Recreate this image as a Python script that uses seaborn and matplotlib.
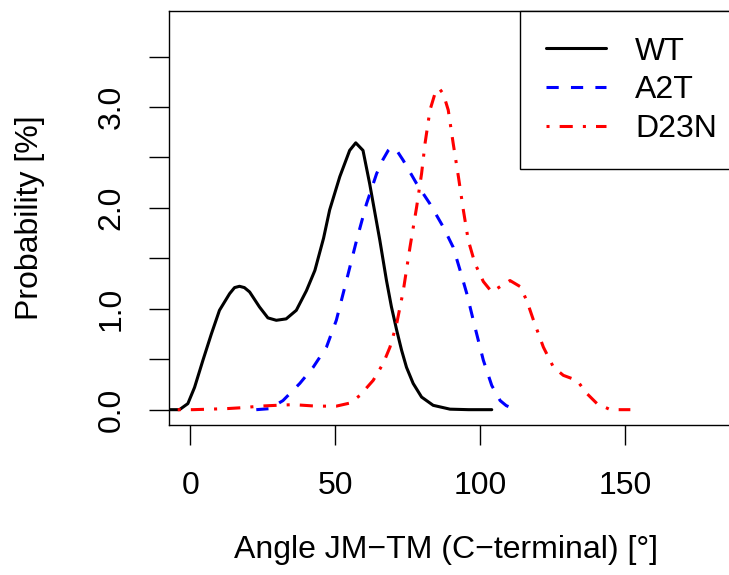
import numpy as np
import pandas as pd
import matplotlib
matplotlib.use("Agg")
import matplotlib.pyplot as plt
import seaborn as sns

# ---- data ----
wt_x = [-6.9, -3.7, -0.8, 1.5, 4.4, 7.3, 10.1, 13.6, 15.3, 17.0, 18.7, 20.5, 23.9, 26.8,
        29.7, 33.1, 36.6, 40.1, 43.0, 46.0, 48.1, 51.6, 55.0, 57.1, 59.6, 61.9, 65.4,
        67.7, 69.4, 71.2, 72.9, 74.6, 76.9, 79.8, 83.8, 89.6, 96.0, 104.0]
wt_y = [0.0, 0.0, 0.06, 0.22, 0.49, 0.75, 0.985, 1.15, 1.21, 1.223, 1.21, 1.167, 1.018, 0.91,
        0.886, 0.90, 0.985, 1.18, 1.38, 1.70, 1.98, 2.31, 2.57, 2.645, 2.57, 2.24, 1.68,
        1.28, 1.02, 0.79, 0.59, 0.42, 0.26, 0.125, 0.043, 0.005, 0.0, 0.0]

a2t_x = [22.8, 27.4, 32.0, 37.8, 42.4, 47.0, 50.4, 53.9, 57.4, 60.8, 64.3, 66.5, 68.3,
         69.4, 71.0, 73.5, 78.1, 82.7, 87.3, 90.7, 93.1, 95.4, 98.2, 101.1, 104.0,
         106.9, 109.0, 111.5]
a2t_y = [0.0, 0.01, 0.09, 0.26, 0.42, 0.62, 0.886, 1.28, 1.68, 2.04, 2.34, 2.48, 2.57,
         2.60, 2.58, 2.47, 2.24, 2.04, 1.81, 1.61, 1.38, 1.15, 0.82, 0.49, 0.24,
         0.09, 0.04, 0.01]

d23n_x = [-4.3, 0.9, 12.4, 18.2, 24.0, 27.4, 35.5, 43.5, 50.4, 55.0, 58.5, 63.1, 66.6,
          68.9, 71.2, 73.5, 75.8, 78.1, 79.8, 81.0, 82.7, 84.8, 86.0, 87.3, 89.0, 90.7,
          92.5, 94.2, 95.9, 98.2, 101.1, 104.0, 106.9, 110.3, 113.8, 116.1, 118.4,
          121.8, 125.3, 128.7, 133.4, 136.8, 140.3, 144.9, 151.8]
d23n_y = [0.0, 0.0, 0.01, 0.02, 0.035, 0.04, 0.05, 0.035, 0.035, 0.065, 0.14, 0.29, 0.46,
          0.62, 0.85, 1.18, 1.61, 2.01, 2.34, 2.64, 2.97, 3.17, 3.18, 3.13, 2.97, 2.64,
          2.31, 1.98, 1.68, 1.45, 1.27, 1.167, 1.22, 1.28, 1.22, 1.08, 0.886,
          0.62, 0.42, 0.34, 0.29, 0.16, 0.06, 0.0, 0.0]

series_names = ["WT", "A2T", "D23N"]
x_ticks = [0, 50, 100, 150]
y_ticks = [0.0, 0.5, 1.0, 1.5, 2.0, 2.5, 3.0, 3.5]
y_tick_labels = ["0.0", "", "1.0", "", "2.0", "", "3.0", ""]
x_label = "Angle JM\u2212TM (C\u2212terminal) [\u00b0]"
y_label = "Probability [%]"

# ---- styling ----
sns.set_style("white")
plt.rcParams["font.family"] = ["Liberation Sans", "DejaVu Sans"]
plt.rcParams["text.color"] = "black"
plt.rcParams["axes.labelcolor"] = "black"

W, H = 729, 575
fig = plt.figure(figsize=(W / 100, H / 100), dpi=100)
ax_left, ax_right, ax_top, ax_bottom = 169.3, 733.0, 11.0, 425.0
ax = fig.add_axes([ax_left / W, 1 - ax_bottom / H,
                   (ax_right - ax_left) / W, (ax_bottom - ax_top) / H])

lw = 2.2
styles = {
    "WT": dict(color="black", linestyle="-"),
    "A2T": dict(color="blue", linestyle=(0, (4, 4))),
    "D23N": dict(color="red", linestyle=(0, (1, 3.3, 4.3, 3.3))),
}
data = {"WT": (wt_x, wt_y), "A2T": (a2t_x, a2t_y), "D23N": (d23n_x, d23n_y)}

for name in series_names:
    xs, ys = data[name]
    df = pd.DataFrame({"x": xs, "y": ys})
    sns.lineplot(data=df, x="x", y="y", ax=ax, estimator=None, sort=False,
                 color=styles[name]["color"], linestyle=styles[name]["linestyle"],
                 linewidth=lw, label=name)

ax.set_xlim(-7.2, 187.2)
ax.set_ylim(-0.152, 3.952)
ax.set_xticks(x_ticks)
ax.set_xticklabels([str(t) for t in x_ticks])
ax.set_yticks(y_ticks)
ax.set_yticklabels(y_tick_labels, rotation=90, va="center", ha="right")

for s in ax.spines.values():
    s.set_color("black")
    s.set_linewidth(1.0)
    s.set_visible(True)

ax.tick_params(axis="both", direction="out", length=14.4, width=1.0, color="black",
               labelsize=23, labelcolor="black")
ax.tick_params(axis="x", pad=18.4, bottom=True)
ax.tick_params(axis="y", pad=16.5, left=True)

ax.set_xlabel(x_label, fontsize=23, va="center", color="black")
ax.xaxis.set_label_coords(0.49, -(550 - ax_bottom) / (ax_bottom - ax_top))
ax.set_ylabel(y_label, fontsize=23, va="center", color="black")
ax.yaxis.set_label_coords((30 - ax_left) / (ax_right - ax_left), 0.5)

leg = ax.legend(loc="upper right", bbox_to_anchor=(1.0169, 1), borderaxespad=0,
                fontsize=23, frameon=True, fancybox=False, framealpha=1,
                edgecolor="black", handlelength=1.9, handletextpad=0.9,
                borderpad=0.8, labelspacing=0.27)
leg.get_frame().set_linewidth(1.0)
for line in leg.get_lines():
    line.set_linewidth(lw)
for t in leg.get_texts():
    t.set_color("black")

fig.savefig("out.png", dpi=100)
